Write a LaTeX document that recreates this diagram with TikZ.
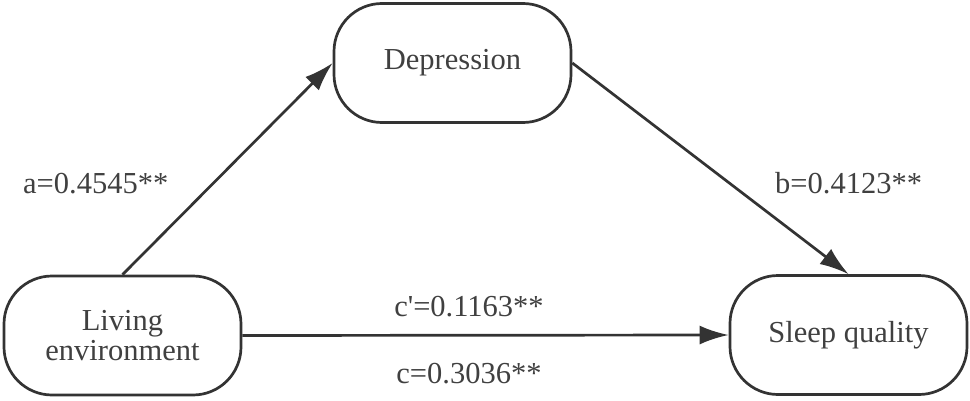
\documentclass[tikz,border=0pt]{standalone}
\usepackage{fontspec}
\newfontfamily\libserif{Liberation Serif}
\usetikzlibrary{arrows.meta}
\definecolor{ink}{HTML}{333333}
\definecolor{txt}{HTML}{404040}
\begin{document}
\begin{tikzpicture}[x=1pt,y=1pt,
  box/.style={draw=ink, line width=2.7pt, rounded corners=48pt, minimum width=237pt, minimum height=119pt, align=center, text=txt, font=\libserif\fontsize{30.5}{30}\selectfont, inner sep=0pt},
  lbl/.style={text=txt, font=\libserif\fontsize{30.5}{30}\selectfont, inner sep=0pt},
  conn/.style={draw=ink, line width=2.7pt, -{Latex[length=29pt,width=19pt]}}]
\useasboundingbox (0,0) rectangle (970,400);
\node[box] (le) at (122.5,64.5) {Living\\environment};
\node[box] (dep) at (452.5,337) {Depression};
\node[box] (sq) at (848.5,65) {Sleep quality};
\draw[conn] (le.north) -- (dep.west);
\draw[conn] (dep.east) -- (sq.north);
\draw[conn] (le.east) -- (sq.west);
\node[lbl, anchor=base west] (la) at (23,207) {a=0.4545**};
\node[lbl, anchor=base west] (lb) at (775,207) {b=0.4123**};
\node[lbl, anchor=base] (lc1) at (469,84) {c'=0.1163**};
\node[lbl, anchor=base] (lc) at (469,17) {c=0.3036**};
\end{tikzpicture}
\end{document}
